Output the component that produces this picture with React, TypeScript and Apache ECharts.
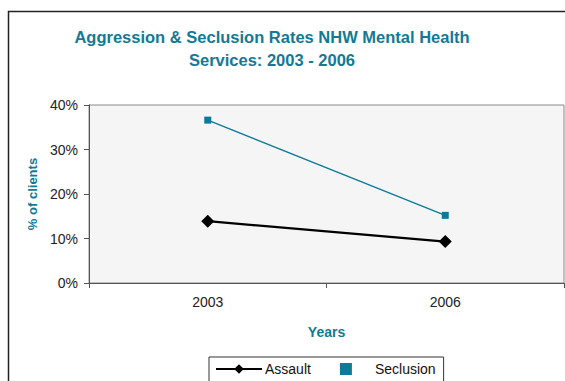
import React, { useEffect, useRef } from "react";
import * as echarts from "echarts";

const categories = ["2003", "2006"];
const assault = [13.9, 9.3];
const seclusion = [36.6, 15.2];
const yTicks = [0, 10, 20, 30, 40];
const titleText = "Aggression & Seclusion Rates NHW Mental Health\nServices: 2003 - 2006";

const TEAL = "#127a96";

export default function App() {
  const ref = useRef<HTMLDivElement>(null);
  useEffect(() => {
    if (!ref.current) return;
    const chart = echarts.init(ref.current, undefined, { renderer: "svg" });
    chart.setOption({
      animation: false,
      backgroundColor: "#ffffff",
      textStyle: { fontFamily: "Liberation Sans, Arial, sans-serif" },
      title: {
        text: titleText,
        left: 267,
        top: 20,
        textAlign: "center",
        textStyle: {
          color: TEAL,
          fontSize: 16.5,
          fontWeight: "bold",
          lineHeight: 23,
          fontFamily: "Liberation Sans, Arial, sans-serif",
        },
      },
      graphic: [
        {
          type: "rect",
          shape: { x: 8.5, y: 11.5, width: 620, height: 420 },
          style: { fill: "none", stroke: "#222", lineWidth: 1.5 },
          z: 100,
          silent: true,
        },
      ],
      grid: {
        left: 89,
        right: 1,
        top: 105,
        bottom: 98,
        show: true,
        backgroundColor: "#f5f5f5",
        borderColor: "#8a8a8a",
        borderWidth: 1,
      },
      legend: {
        left: 209,
        top: 357,
        orient: "horizontal",
        itemWidth: 46,
        itemHeight: 12,
        itemGap: 29,
        padding: [5, 8, 12, 6],
        borderColor: "#333",
        borderWidth: 1,
        backgroundColor: "#fff",
        textStyle: { fontSize: 14, color: "#111", fontFamily: "Liberation Sans, Arial, sans-serif", padding: [0, 0, 0, -2] },
        data: [
          { name: "Assault" },
          {
            name: "Seclusion",
            icon: "path://M0,0h10v10h-10z",
            itemStyle: { color: "#0e7a9a" },
            textStyle: { fontSize: 14, color: "#111", padding: [0, 0, 0, 1] },
          },
        ],
      },
      xAxis: {
        type: "category",
        data: categories,
        boundaryGap: true,
        name: "Years",
        nameLocation: "middle",
        nameGap: 42,
        nameTextStyle: { color: TEAL, fontSize: 14, fontWeight: "bold" },
        axisLine: { lineStyle: { color: "#555", width: 1 } },
        axisTick: { show: true, length: 5, lineStyle: { color: "#555" } },
        axisLabel: { color: "#222", fontSize: 14, margin: 12 },
        splitLine: { show: false },
      },
      yAxis: {
        type: "value",
        min: yTicks[0],
        max: yTicks[yTicks.length - 1],
        interval: 10,
        name: "% of clients",
        nameLocation: "middle",
        nameGap: 45,
        nameTextStyle: { color: TEAL, fontSize: 13, fontWeight: "bold" },
        axisLine: { show: true, lineStyle: { color: "#555", width: 1 } },
        axisTick: { show: true, length: 5, lineStyle: { color: "#555" } },
        axisLabel: { color: "#222", fontSize: 14, margin: 11, formatter: "{value}%" },
        splitLine: { show: false },
      },
      series: [
        {
          name: "Assault",
          type: "line",
          data: assault,
          symbol: "diamond",
          symbolSize: 13,
          lineStyle: { color: "#000", width: 2.2 },
          itemStyle: { color: "#000" },
          z: 3,
        },
        {
          name: "Seclusion",
          type: "line",
          data: seclusion,
          symbol: "rect",
          symbolSize: 7,
          lineStyle: { color: "#0e7a9a", width: 1.4 },
          itemStyle: { color: "#0e7a9a" },
          z: 2,
        },
      ],
    });
    return () => chart.dispose();
  }, []);
  return (
    <div
      ref={ref}
      style={{ position: "fixed", left: 0, top: 0, width: 565, height: 381 }}
    />
  );
}
